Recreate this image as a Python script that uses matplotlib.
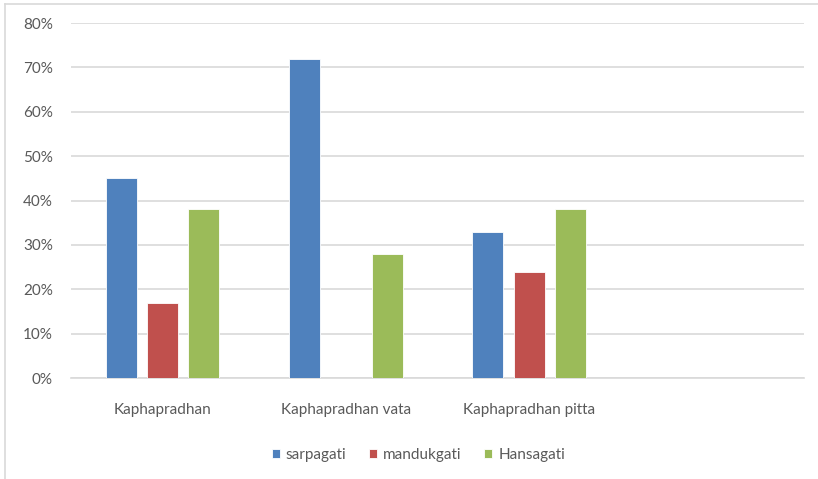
import numpy as np
import matplotlib.pyplot as plt
from matplotlib.lines import Line2D
from matplotlib.ticker import PercentFormatter

plt.rcParams['font.family'] = ['Lato', 'DejaVu Sans']

categories = ["Kaphapradhan", "Kaphapradhan vata", "Kaphapradhan pitta", ""]
series = ["sarpagati", "mandukgati", "Hansagati"]
sarpagati = [45, 72, 33, np.nan]
mandukgati = [17, 0, 24, np.nan]
hansagati = [38, 28, 38, np.nan]
colors = ["#4f81bd", "#c0504d", "#9bbb59"]

W, H = 818, 479
fig = plt.figure(figsize=(W / 100, H / 100), dpi=100)
ax = fig.add_axes([71 / W, 1 - 378 / H, (804 - 71) / W, (378 - 23) / H])

x = np.arange(len(categories))
width = 0.17
step = 0.225
for i, (vals, name, c) in enumerate(zip([sarpagati, mandukgati, hansagati], series, colors)):
    ax.bar(x + (i - 1) * step, vals, width, color=c, label=name,
           edgecolor="white", linewidth=0.6, zorder=3)

ax.set_xlim(-0.5, len(categories) - 0.5)
ax.set_ylim(0, 80)
ax.set_yticks(np.arange(0, 81, 10))
ax.yaxis.set_major_formatter(PercentFormatter(decimals=0))
ax.set_xticks(x)
ax.set_xticklabels(categories)
ax.grid(axis="y", color="#d9d9d9", linewidth=1.2, zorder=0)
for s in ["top", "right", "left"]:
    ax.spines[s].set_visible(False)
ax.spines["bottom"].set_color("#d9d9d9")
ax.spines["bottom"].set_linewidth(1.2)
ax.tick_params(axis="both", length=0, colors="#595959", labelsize=11)
ax.tick_params(axis="y", pad=13)
ax.tick_params(axis="x", pad=18)

ax.legend(loc="upper center", bbox_to_anchor=(0.474, -0.158), ncol=3,
          frameon=False, fontsize=11, handlelength=0.5, handleheight=0.5,
          handletextpad=0.4, columnspacing=1.5, labelcolor="#595959")

# chart area border
fig.add_artist(Line2D([5 / W, 5 / W], [0, 1 - 4 / H], color="#d9d9d9", linewidth=1.2))
fig.add_artist(Line2D([5 / W, 1], [1 - 4 / H, 1 - 4 / H], color="#d9d9d9", linewidth=1.2))

fig.savefig("out.png", dpi=100)
